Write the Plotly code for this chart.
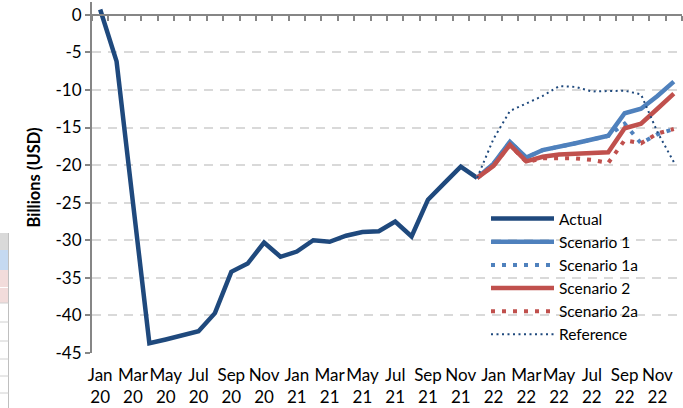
import plotly.graph_objects as go

# ---------------- data ----------------
months = ["Jan 20", "Feb 20", "Mar 20", "Apr 20", "May 20", "Jun 20", "Jul 20", "Aug 20",
          "Sep 20", "Oct 20", "Nov 20", "Dec 20", "Jan 21", "Feb 21", "Mar 21", "Apr 21",
          "May 21", "Jun 21", "Jul 21", "Aug 21", "Sep 21", "Oct 21", "Nov 21", "Dec 21",
          "Jan 22", "Feb 22", "Mar 22", "Apr 22", "May 22", "Jun 22", "Jul 22", "Aug 22",
          "Sep 22", "Oct 22", "Nov 22", "Dec 22"]

actual = [0.7, -6.2, -25.0, -43.7, -43.2, -42.7, -42.1, -39.7, -34.2, -33.1, -30.3, -32.2,
          -31.5, -30.0, -30.2, -29.4, -28.9, -28.8, -27.5, -29.5, -24.6, -22.4, -20.2, -21.7]

proj_months = months[23:]
scenario1 = [-21.7, -19.8, -16.9, -19.0, -18.0, -17.6, -17.1, -16.6, -16.1, -13.1, -12.5, -10.8, -8.9]
scenario1a = [-21.7, -19.8, -16.9, -19.0, -18.0, -17.6, -17.1, -16.6, -16.1, -14.5, -17.1, -15.9, -15.2]
scenario2 = [-21.7, -20.1, -17.3, -19.5, -18.9, -18.6, -18.5, -18.4, -18.3, -15.1, -14.5, -12.5, -10.5]
scenario2a = [-21.7, -20.1, -17.3, -19.6, -19.1, -19.1, -19.1, -19.3, -19.7, -16.7, -17.1, -15.8, -15.2]
reference = [-21.7, -16.5, -12.8, -11.8, -10.8, -9.5, -9.6, -10.2, -10.1, -10.1, -10.6, -15.6, -19.6]

tick_months = months[::2]
tick_labels = [m.replace(" ", "<br>") for m in tick_months]
y_ticks = [0, -5, -10, -15, -20, -25, -30, -35, -40, -45]

FONT = "Lato"
FS = 17
C_ACT = "#1F497D"
C_S1 = "#4F81BD"
C_S2 = "#C0504D"
GRID = "#D9D9D9"
AXIS = "#868686"

idx = {m: i for i, m in enumerate(months)}
xa = [idx[m] for m in months[:len(actual)]]
xp = [idx[m] for m in proj_months]

fig = go.Figure()
fig.add_trace(go.Scatter(x=xa, y=actual, mode="lines", name="Actual",
                         line=dict(color=C_ACT, width=4.5)))
fig.add_trace(go.Scatter(x=xp, y=scenario1, mode="lines", name="Scenario 1",
                         line=dict(color=C_S1, width=4.5)))
fig.add_trace(go.Scatter(x=xp, y=scenario1a, mode="lines", name="Scenario 1a",
                         line=dict(color=C_S1, width=4, dash="4px,7px")))
fig.add_trace(go.Scatter(x=xp, y=scenario2, mode="lines", name="Scenario 2",
                         line=dict(color=C_S2, width=4.5)))
fig.add_trace(go.Scatter(x=xp, y=scenario2a, mode="lines", name="Scenario 2a",
                         line=dict(color=C_S2, width=4, dash="4px,7px")))
fig.add_trace(go.Scatter(x=xp, y=reference, mode="lines", name="Reference",
                         line=dict(color=C_ACT, width=2, dash="2px,3.5px")))

xrange = [-0.5, len(months) - 0.5]
yrange = [-45, 1.7]

# small spreadsheet fragment visible at far left (pixel -> paper helper)
L, T, W, H = 92, 2, 590, 351
def px(x):
    return (x - L) / W
def py(y):
    return 1 - (y - T) / H

frag = [(233, 250, "#D9D9D9"), (250, 270, "#C5D9F1"), (270, 287, "#F2DCDB"), (288, 303, "#F2DCDB")]
shapes = []
for y0, y1, col in frag:
    shapes.append(dict(type="rect", xref="paper", yref="paper", x0=px(-2), x1=px(8),
                       y0=py(y1), y1=py(y0), fillcolor=col, line=dict(width=0), layer="below"))
shapes.append(dict(type="line", xref="paper", yref="paper", x0=px(8.5), x1=px(8.5),
                   y0=py(408), y1=py(233), line=dict(color="#BFBFBF", width=1)))
for yy in [303, 322, 341, 359, 376, 393]:
    shapes.append(dict(type="line", xref="paper", yref="paper", x0=px(-2), x1=px(8.5),
                       y0=py(yy), y1=py(yy), line=dict(color="#D0D0D0", width=1)))

fig.update_layout(
    width=683, height=408,
    margin=dict(l=L, r=683 - L - W, t=T, b=408 - T - H, autoexpand=False),
    paper_bgcolor="white", plot_bgcolor="white",
    font=dict(family=FONT, size=FS, color="black"),
    showlegend=True,
    legend=dict(x=px(486), y=py(202), xanchor="left", yanchor="top",
                bgcolor="rgba(255,255,255,0)", borderwidth=0,
                font=dict(family=FONT, size=15.5, color="black"),
                itemwidth=63, tracegroupgap=0),
    xaxis=dict(range=xrange, tickmode="array", automargin=False, tickangle=0,
               tickvals=[idx[m] for m in tick_months], ticktext=tick_labels,
               showgrid=False, zeroline=False, showline=False, ticks="",
               tickfont=dict(family=FONT, size=FS), ticklabelstandoff=10),
    xaxis2=dict(range=xrange, overlaying="x", anchor="free", side="bottom", automargin=False,
                position=(0 - yrange[0]) / (yrange[1] - yrange[0]),
                tickmode="array", tickvals=[i - 0.5 for i in range(len(months) + 1)],
                showticklabels=False, ticks="outside", ticklen=5, tickwidth=1.5,
                tickcolor=AXIS, showline=True, linecolor=AXIS, linewidth=2,
                showgrid=False, zeroline=False),
    yaxis=dict(range=yrange, tickmode="array", tickvals=y_ticks, automargin=False,
               ticktext=[str(v) for v in y_ticks],
               showgrid=True, gridcolor=GRID, gridwidth=2, griddash="9px,7px",
               zeroline=False, showline=True, linecolor=AXIS, linewidth=2,
               ticks="outside", ticklen=5, tickwidth=1.5, tickcolor=AXIS,
               tickfont=dict(family=FONT, size=FS),
               title=dict(text="<b>Billions (USD)</b>", font=dict(family=FONT, size=16.5),
                          standoff=11)),
    shapes=shapes,
)
# dummy trace to activate xaxis2
fig.add_trace(go.Scatter(x=[None], y=[None], xaxis="x2", showlegend=False, hoverinfo="skip"))

fig.write_html("out.html", config={"displayModeBar": False},
               post_script="document.body.style.margin='0';document.body.style.overflow='hidden';")
